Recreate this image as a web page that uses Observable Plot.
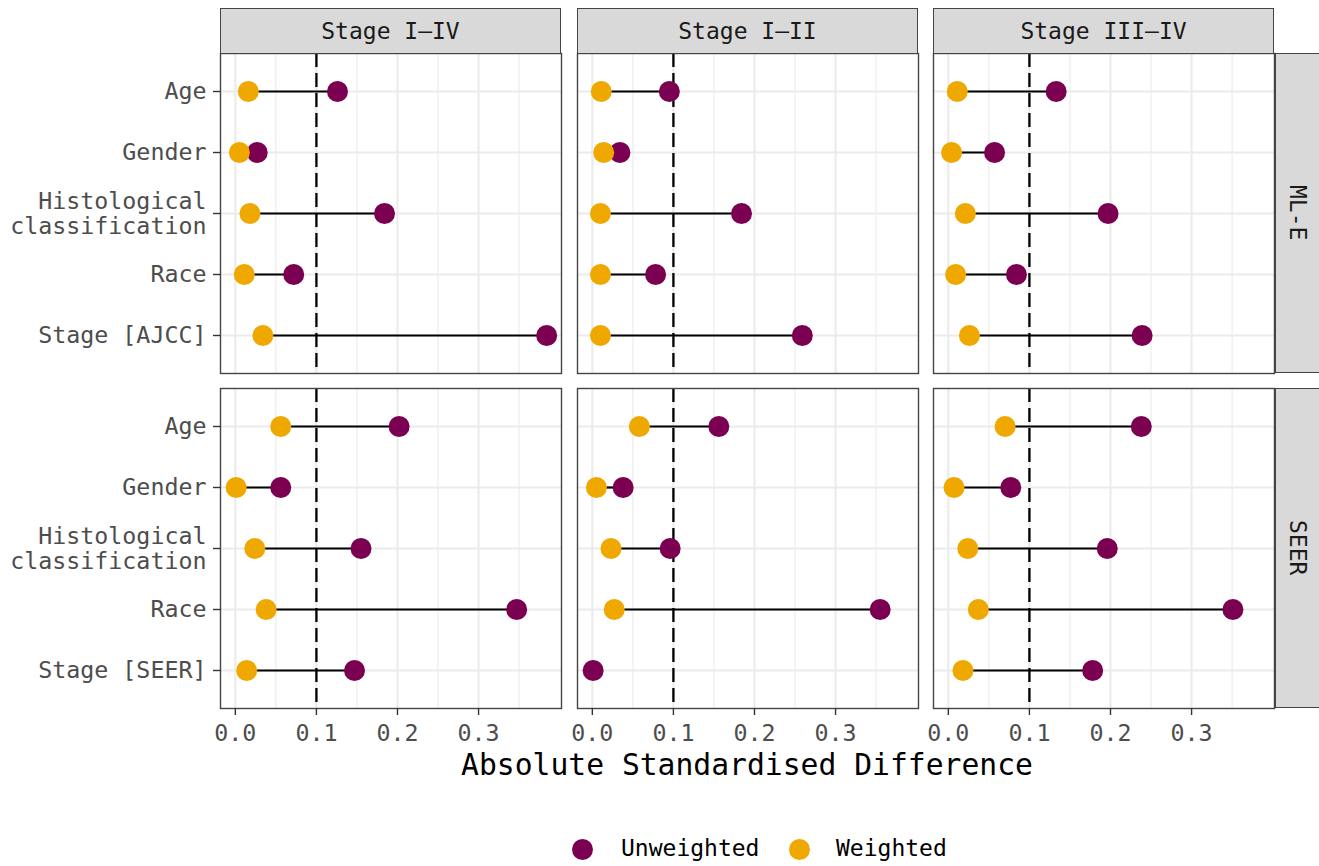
<!DOCTYPE html>
<html>
<head>
<meta charset="utf-8">
<script src="https://cdn.jsdelivr.net/npm/d3@7"></script>
<script src="https://cdn.jsdelivr.net/npm/@observablehq/plot@0.6"></script>
<style>
  html, body { margin: 0; padding: 0; background: #fff; }
  #chart { position: relative; width: 1319px; height: 866px; overflow: hidden; font-family: 'DejaVu Sans Mono', monospace; }
  .abs { position: absolute; }
  .strip { position: absolute; background: #d9d9d9; border: 1.3px solid #444; box-sizing: border-box;
           display: flex; align-items: center; justify-content: center; font-size: 23px; color: #1a1a1a; }
  .vstrip { writing-mode: vertical-rl; }
  .dotkey { position: absolute; width: 21px; height: 21px; border-radius: 50%; }
  .legtext { position: absolute; font-size: 23px; color: #000; line-height: 1; }
</style>
</head>
<body>
<div id="chart"></div>
<script>
// ---------------- data ----------------
const stages = ["Stage I–IV", "Stage I–II", "Stage III–IV"];
const sources = ["ML-E", "SEER"];
const covariatesMLE = ["Age", "Gender", "Histological\nclassification", "Race", "Stage [AJCC]"];
const covariatesSEER = ["Age", "Gender", "Histological\nclassification", "Race", "Stage [SEER]"];
// one inner array per stage (I–IV, I–II, III–IV), values in covariate order
const unweightedMLE = [
  [0.126, 0.027, 0.184, 0.072, 0.384],
  [0.095, 0.034, 0.184, 0.078, 0.259],
  [0.133, 0.057, 0.197, 0.084, 0.239]
];
const weightedMLE = [
  [0.016, 0.005, 0.018, 0.011, 0.034],
  [0.011, 0.014, 0.010, 0.010, 0.010],
  [0.011, 0.004, 0.021, 0.009, 0.026]
];
const unweightedSEER = [
  [0.202, 0.056, 0.155, 0.347, 0.147],
  [0.156, 0.038, 0.096, 0.355, 0.001],
  [0.238, 0.077, 0.196, 0.351, 0.178]
];
const weightedSEER = [
  [0.056, 0.001, 0.024, 0.038, 0.014],
  [0.058, 0.005, 0.023, 0.027, null],
  [0.070, 0.007, 0.024, 0.037, 0.018]
];
const majorTicks = [0, 0.1, 0.2, 0.3];
const minorTicks = [0.05, 0.15, 0.25, 0.35];
const threshold = 0.1;
const seriesNames = ["Unweighted", "Weighted"];
const seriesColors = ["#7b0051", "#efa800"];
const xTitle = "Absolute Standardised Difference";

// ---------------- layout ----------------
const chart = document.getElementById("chart");
const colLeft = [220, 577, 933];
const panelW = 341;
const rowTop = [53, 388];
const panelH = 320;
const xDomain = [-0.0183, 0.4023];
const font = "'DejaVu Sans Mono', monospace";

const covLists = [covariatesMLE, covariatesSEER];
const unw = [unweightedMLE, unweightedSEER];
const wtd = [weightedMLE, weightedSEER];

for (let r = 0; r < 2; r++) {
  for (let c = 0; c < 3; c++) {
    const covs = covLists[r];
    const rows = covs.map((cov, i) => ({cov, u: unw[r][c][i], w: wtd[r][c][i]}));
    const withW = rows.filter(d => d.w != null);
    const first = c === 0;
    const bottom = r === 1;
    const mL = first ? colLeft[0] : 0;
    const mB = bottom ? 45 : 0;
    const marks = [
      Plot.gridX(minorTicks, {stroke: "#ebebeb", strokeOpacity: 1, strokeWidth: 1.1}),
      Plot.gridX(majorTicks, {stroke: "#ebebeb", strokeOpacity: 1, strokeWidth: 2.1}),
      Plot.gridY(covs, {stroke: "#ebebeb", strokeOpacity: 1, strokeWidth: 2.1}),
      Plot.ruleX([threshold], {stroke: "#000", strokeWidth: 2.3, strokeDasharray: "14,6"}),
      Plot.ruleY(withW, {y: "cov", x1: "w", x2: "u", stroke: "#000", strokeWidth: 2.2}),
      Plot.dot(rows, {x: "u", y: "cov", r: 10.5, fill: seriesColors[0]}),
      Plot.dot(withW, {x: "w", y: "cov", r: 10.5, fill: seriesColors[1]}),
      Plot.frame({stroke: "#444", strokeWidth: 1.4})
    ];
    if (first) {
      marks.push(Plot.axisY({tickSize: 7, tickPadding: 7, stroke: "#333", fill: "#4d4d4d",
        fontSize: 23.3, lineHeight: 1.05, label: null, strokeWidth: 1.4}));
    }
    if (bottom) {
      marks.push(Plot.axisX(majorTicks, {tickSize: 7, tickPadding: 9, stroke: "#333", fill: "#4d4d4d",
        fontSize: 23.3, label: null, strokeWidth: 1.4, tickFormat: d3.format(".1f")}));
    }
    const p = Plot.plot({
      width: mL + panelW,
      height: panelH + mB,
      marginLeft: mL, marginRight: 0, marginTop: 0, marginBottom: mB,
      x: {domain: xDomain, axis: null},
      y: {type: "point", domain: covs, padding: 0.6, axis: null},
      style: {fontFamily: font, fontSize: "23.3px", background: "transparent", overflow: "visible"},
      marks
    });
    p.classList.add("abs");
    p.style.left = (first ? 0 : colLeft[c]) + "px";
    p.style.top = rowTop[r] + "px";
    chart.appendChild(p);
  }
}

// top strips
stages.forEach((s, c) => {
  const d = document.createElement("div");
  d.className = "strip";
  d.style.left = colLeft[c] + "px";
  d.style.top = "8px";
  d.style.width = panelW + "px";
  d.style.height = (rowTop[0] - 8 + 1) + "px";
  d.textContent = s;
  chart.appendChild(d);
});
// right strips
sources.forEach((s, r) => {
  const d = document.createElement("div");
  d.className = "strip vstrip";
  d.style.left = "1275px";
  d.style.top = rowTop[r] + "px";
  d.style.width = "46px";
  d.style.height = panelH + "px";
  d.textContent = s;
  chart.appendChild(d);
});
// x title
const t = document.createElement("div");
t.className = "abs";
t.style.left = colLeft[0] + "px";
t.style.width = (1274 - colLeft[0]) + "px";
t.style.top = "747px";
t.style.textAlign = "center";
t.style.fontSize = "29.7px";
t.style.color = "#000";
t.textContent = xTitle;
chart.appendChild(t);

// legend
const legX = [582, 799];
const legTextX = [621, 836];
seriesNames.forEach((name, i) => {
  const dk = document.createElement("div");
  dk.className = "dotkey";
  dk.style.left = (legX[i] - 10.5) + "px";
  dk.style.top = (849 - 10.5) + "px";
  dk.style.background = seriesColors[i];
  chart.appendChild(dk);
  const tx = document.createElement("div");
  tx.className = "legtext";
  tx.style.left = legTextX[i] + "px";
  tx.style.top = (849 - 12) + "px";
  tx.textContent = name;
  chart.appendChild(tx);
});
</script>
</body>
</html>
